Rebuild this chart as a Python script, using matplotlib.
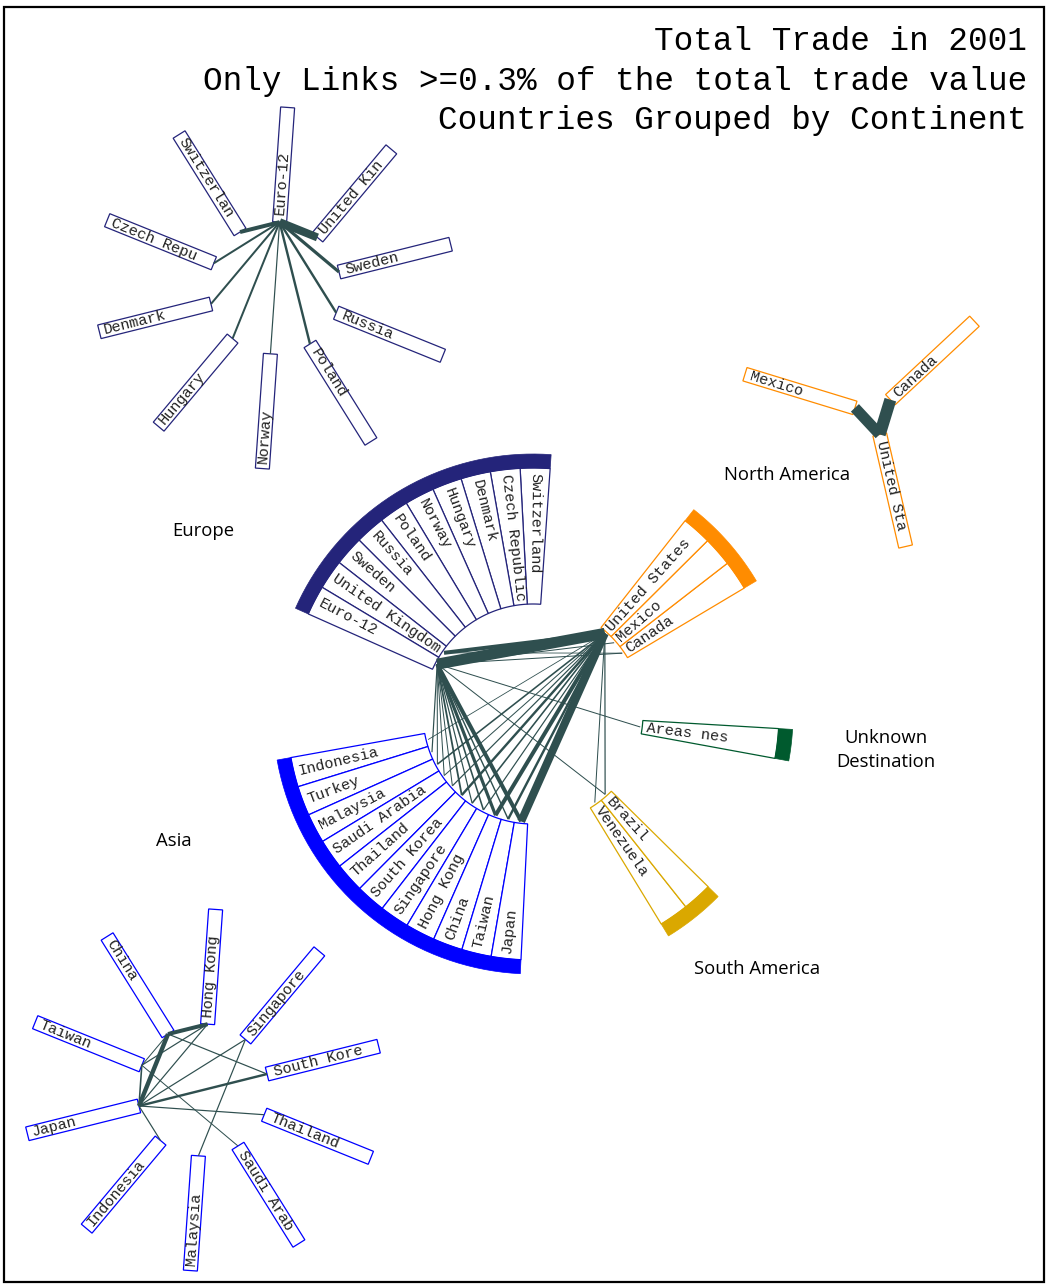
import numpy as np
import matplotlib.pyplot as plt
from matplotlib.patches import Polygon, Rectangle

# countries per continent, in the order they sit round the big circle
europe = ['Switzerland', 'Czech Republic', 'Denmark', 'Hungary', 'Norway',
          'Poland', 'Russia', 'Sweden', 'United Kingdom', 'Euro-12']
asia = ['Indonesia', 'Turkey', 'Malaysia', 'Saudi Arabia', 'Thailand', 'South Korea',
        'Singapore', 'Hong Kong', 'China', 'Taiwan', 'Japan']
south_america = ['Venezuela', 'Brazil']
unknown = ['Areas nes']
north_america = ['Canada', 'Mexico', 'United States']

group_names = ['Europe', 'Asia', 'South America', 'Unknown\nDestination', 'North America']
group_members = [europe, asia, south_america, unknown, north_america]
group_colors = ['#24247A', '#0000FF', '#DAA800', '#005A2E', '#FF8C00']

# links between continents (share of total trade, %)
main_links = [
    ('Euro-12', 'United States', 5.5),
    ('United Kingdom', 'United States', 2.0),
    ('Euro-12', 'Mexico', 0.5),
    ('Euro-12', 'Canada', 0.5),
    ('United Kingdom', 'Canada', 0.4),
    ('Euro-12', 'Japan', 2.0),
    ('Euro-12', 'China', 1.6),
    ('Euro-12', 'Taiwan', 0.7),
    ('Euro-12', 'Hong Kong', 0.8),
    ('Euro-12', 'South Korea', 0.9),
    ('Euro-12', 'Singapore', 0.6),
    ('Euro-12', 'Thailand', 0.5),
    ('Euro-12', 'Saudi Arabia', 0.5),
    ('Euro-12', 'Malaysia', 0.5),
    ('Euro-12', 'Turkey', 0.6),
    ('Euro-12', 'Brazil', 0.5),
    ('Euro-12', 'Areas nes', 0.5),
    ('United States', 'Japan', 4.0),
    ('United States', 'China', 2.0),
    ('United States', 'Taiwan', 1.2),
    ('United States', 'Hong Kong', 0.6),
    ('United States', 'South Korea', 1.2),
    ('United States', 'Singapore', 0.8),
    ('United States', 'Malaysia', 0.8),
    ('United States', 'Thailand', 0.6),
    ('United States', 'Saudi Arabia', 0.5),
    ('United States', 'Indonesia', 0.4),
    ('United States', 'Brazil', 0.6),
    ('United States', 'Venezuela', 0.5),
]

# small charts: trade inside one continent
europe_sub = ['Euro-12', 'United Kingdom', 'Sweden', 'Russia', 'Poland',
              'Norway', 'Hungary', 'Denmark', 'Czech Republic', 'Switzerland']
europe_links = [
    ('Euro-12', 'United Kingdom', 4.0),
    ('Euro-12', 'Switzerland', 2.0),
    ('Euro-12', 'Sweden', 1.6),
    ('Euro-12', 'Russia', 1.2),
    ('Euro-12', 'Poland', 1.2),
    ('Euro-12', 'Norway', 0.6),
    ('Euro-12', 'Hungary', 1.0),
    ('Euro-12', 'Denmark', 1.0),
    ('Euro-12', 'Czech Republic', 1.0),
]
asia_sub = ['Japan', 'Taiwan', 'China', 'Hong Kong', 'Singapore', 'South Korea',
            'Thailand', 'Saudi Arabia', 'Malaysia', 'Indonesia']
asia_links = [
    ('Japan', 'China', 2.2),
    ('China', 'Hong Kong', 2.0),
    ('Japan', 'Taiwan', 0.8),
    ('Japan', 'Hong Kong', 0.6),
    ('Japan', 'Singapore', 0.6),
    ('Japan', 'South Korea', 1.2),
    ('Japan', 'Thailand', 0.6),
    ('Japan', 'Indonesia', 0.6),
    ('Malaysia', 'Singapore', 0.6),
    ('Taiwan', 'Hong Kong', 0.6),
    ('Taiwan', 'China', 0.5),
    ('China', 'South Korea', 0.6),
    ('Taiwan', 'Saudi Arabia', 0.5),
]
na_sub = ['United States', 'Mexico', 'Canada']
na_links = [
    ('United States', 'Canada', 6.0),
    ('United States', 'Mexico', 5.5),
]

title_lines = ['Total Trade in 2001',
               'Only Links >=0.3% of the total trade value',
               'Countries Grouped by Continent']

LINK_COL = '#2F4F4F'
MONO = 'Liberation Mono'
PX = 72 / 100  # points per pixel


def pt(cx, cy, r, a):
    t = np.radians(a)
    return cx + r * np.cos(t), cy - r * np.sin(t)


def link_width(v):
    return v * 2.0 * PX


fig = plt.figure(figsize=(10.48, 12.84), dpi=100)
ax = fig.add_axes([0, 0, 1, 1])
ax.set_xlim(0, 1048)
ax.set_ylim(1284, 0)
ax.axis('off')

# ---- big circle ----
CX, CY = 533, 714
R_IN, R_BOX, R_OUT, R_LINK = 110, 246, 260, 108
SLOT = 7
START = 86
n_all = sum(len(m) for m in group_members)
gap = (360 - SLOT * n_all) / len(group_members)

country_angle = {}
ang = START
for members, col in zip(group_members, group_colors):
    g0 = ang
    g_mid = g0 + SLOT * len(members) / 2
    outward = np.cos(np.radians(g_mid)) > 0
    for c in members:
        a0, a1 = ang, ang + SLOT
        arc = np.linspace(a0, a1, 12)
        pts = [pt(CX, CY, R_IN, a) for a in arc] + [pt(CX, CY, R_BOX, a) for a in arc[::-1]]
        ax.add_patch(Polygon(pts, closed=True, facecolor='white', edgecolor=col, lw=0.9, zorder=2))
        am = (a0 + a1) / 2
        country_angle[c] = am
        if outward:
            x, y = pt(CX, CY, 114, am)
            rot = am
        else:
            x, y = pt(CX, CY, 241, am)
            rot = am - 180
        ax.text(x, y, c, rotation=rot, rotation_mode='anchor', ha='left', va='center',
                family=MONO, fontsize=11, color='#222222', zorder=5)
        ang = a1
    arc = np.linspace(g0, ang, 40)
    pts = [pt(CX, CY, R_BOX, a) for a in arc] + [pt(CX, CY, R_OUT, a) for a in arc[::-1]]
    ax.add_patch(Polygon(pts, closed=True, facecolor=col, edgecolor=col, lw=0.5, zorder=2))
    ang += gap

for a, b, v in main_links:
    x0, y0 = pt(CX, CY, R_LINK, country_angle[a])
    x1, y1 = pt(CX, CY, R_LINK, country_angle[b])
    ax.plot([x0, x1], [y0, y1], color=LINK_COL, lw=link_width(v),
            solid_capstyle='butt', zorder=3)


# ---- small charts ----
def draw_sub(cx, cy, r0, start, names, color, links):
    step = 360 / len(names)
    L, hw = 115, 7
    inner = {}
    for i, name in enumerate(names):
        a = start - step * i
        t = np.radians(a)
        ux, uy = np.cos(t), -np.sin(t)
        px, py = -uy, ux
        xi, yi = pt(cx, cy, r0, a)
        xo, yo = pt(cx, cy, r0 + L, a)
        corners = [(xi + hw * px, yi + hw * py), (xo + hw * px, yo + hw * py),
                   (xo - hw * px, yo - hw * py), (xi - hw * px, yi - hw * py)]
        ax.add_patch(Polygon(corners, closed=True, facecolor='white', edgecolor=color,
                             lw=0.9, zorder=2))
        inner[name] = (xi, yi)
        if np.cos(t) >= 0:
            x, y = pt(cx, cy, r0 + 7, a)
            rot = a
        else:
            x, y = pt(cx, cy, r0 + 110, a)
            rot = a - 180
        ax.text(x, y, name[:10], rotation=rot, rotation_mode='anchor', ha='left',
                va='center', family=MONO, fontsize=11, color='#222222', zorder=5)
    for a, b, v in links:
        (x0, y0), (x1, y1) = inner[a], inner[b]
        ax.plot([x0, x1], [y0, y1], color=LINK_COL, lw=link_width(v),
                solid_capstyle='butt', zorder=3)


draw_sub(275, 288, 66, 86, europe_sub, group_colors[0], europe_links)
draw_sub(203, 1090, 66, 194, asia_sub, group_colors[1], asia_links)
draw_sub(875, 414, 21, -77, na_sub, group_colors[4], na_links)

# ---- continent names ----
label_pos = [(203, 531), (174, 841), (757, 969), (886, 750), (787, 475)]
for name, (x, y) in zip(group_names, label_pos):
    ax.text(x, y, name, ha='center', va='center', family='Open Sans', fontsize=13.3,
            color='black', linespacing=1.45, zorder=5)

# ---- title ----
for i, line in enumerate(title_lines):
    ax.text(1027, 42 + 39.5 * i, line, ha='right', va='center', family=MONO,
            fontsize=23.5, color='black')

ax.add_patch(Rectangle((4, 7), 1040, 1275, fill=False, edgecolor='black', lw=1.6, zorder=6))

fig.savefig('out.png', dpi=100, facecolor='white')
